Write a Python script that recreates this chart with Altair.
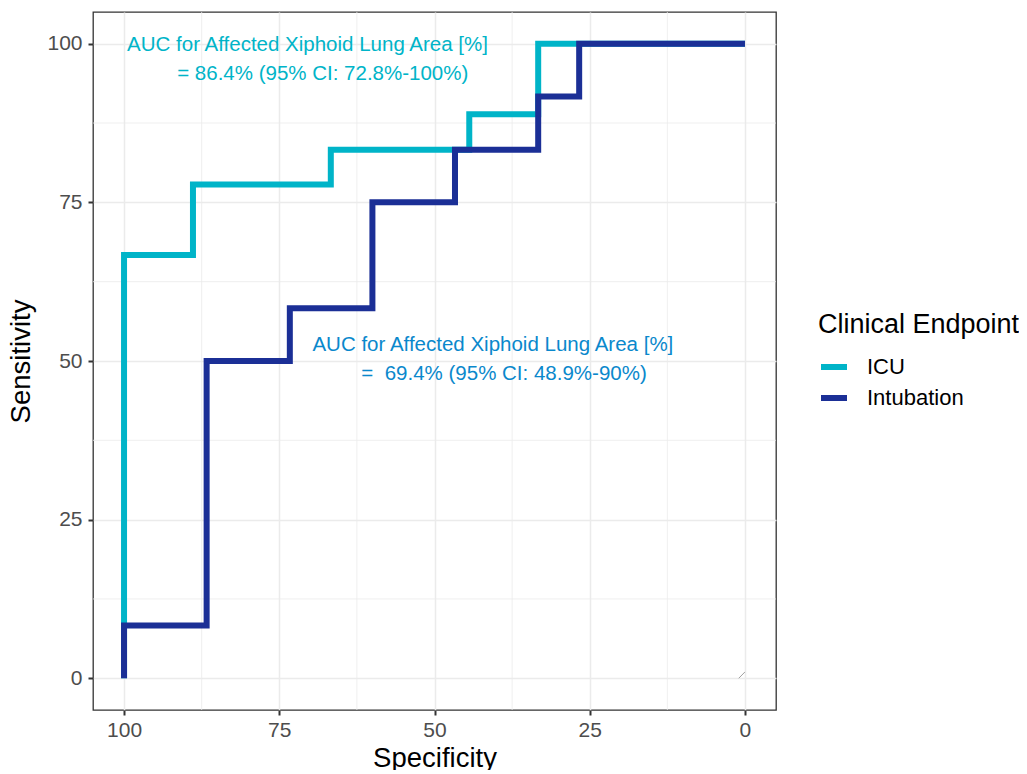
import altair as alt
import pandas as pd

# ---- data ----
icu_spec = [100, 100, 88.9, 88.9, 66.7, 66.7, 44.4, 44.4, 33.3, 33.3, 0]
icu_sens = [0, 66.7, 66.7, 77.8, 77.8, 83.3, 83.3, 88.9, 88.9, 100, 100]
int_spec = [100, 100, 86.7, 86.7, 73.3, 73.3, 60, 60, 46.7, 46.7, 33.3, 33.3, 26.7, 26.7, 0]
int_sens = [0, 8.3, 8.3, 50, 50, 58.3, 58.3, 75, 75, 83.3, 83.3, 91.7, 91.7, 100, 100]
endpoints = ["ICU", "Intubation"]
colors = ["#00B4C8", "#1B2F96"]

ref_spec = [1, 0]
ref_sens = [0, 1]

major_ticks = [0, 25, 50, 75, 100]
minor_ticks = [12.5, 37.5, 62.5, 87.5]

ann_text = [
    "AUC for Affected Xiphoid Lung Area [%]",
    "= 86.4% (95% CI: 72.8%-100%)",
    "AUC for Affected Xiphoid Lung Area [%]",
    "=\u00a0 69.4% (95% CI: 48.9%-90%)",
]
ann_spec = [70.45, 68.0, 40.6, 38.8]
ann_sens = [98.9, 94.3, 51.5, 47.0]
ann_color = ["#00B4C8", "#00B4C8", "#0A88CC", "#0A88CC"]

FONT = "Liberation Sans"

rows = []
for i, (s, v) in enumerate(zip(icu_spec, icu_sens)):
    rows.append({"spec": s, "sens": v, "endpoint": "ICU", "ord": i})
for i, (s, v) in enumerate(zip(int_spec, int_sens)):
    rows.append({"spec": s, "sens": v, "endpoint": "Intubation", "ord": i})
curves = pd.DataFrame(rows)

xscale = alt.Scale(domain=[-5, 105], reverse=True, nice=False, zero=False)
yscale = alt.Scale(domain=[-5, 105], nice=False, zero=False)

minor_x = alt.Chart(pd.DataFrame({"v": minor_ticks})).mark_rule(
    color="#EBEBEB", strokeWidth=0.8
).encode(x=alt.X("v:Q", scale=xscale))
minor_y = alt.Chart(pd.DataFrame({"v": minor_ticks})).mark_rule(
    color="#EBEBEB", strokeWidth=0.8
).encode(y=alt.Y("v:Q", scale=yscale))

ref = alt.Chart(pd.DataFrame({"spec": ref_spec, "sens": ref_sens})).mark_line(
    color="#A0A0A0", strokeWidth=1
).encode(x=alt.X("spec:Q", scale=xscale), y=alt.Y("sens:Q", scale=yscale))

lines = alt.Chart(curves).mark_line(strokeWidth=6, strokeJoin="miter", strokeCap="butt").encode(
    x=alt.X(
        "spec:Q",
        scale=xscale,
        title="Specificity",
        axis=alt.Axis(values=major_ticks, format="d"),
    ),
    y=alt.Y(
        "sens:Q",
        scale=yscale,
        title="Sensitivity",
        axis=alt.Axis(values=major_ticks, format="d"),
    ),
    color=alt.Color(
        "endpoint:N",
        scale=alt.Scale(domain=endpoints, range=colors),
        legend=alt.Legend(
            title="Clinical Endpoint",
            orient="none",
            legendX=725,
            legendY=300,
            symbolType="stroke",
            symbolSize=676,
            symbolStrokeWidth=6,
            rowPadding=3,
            labelOffset=17,
            titlePadding=12,
            titleLimit=400,
            labelLimit=300,
        ),
    ),
    order="ord:Q",
)

ann = alt.Chart(
    pd.DataFrame({"t": ann_text, "spec": ann_spec, "sens": ann_sens, "c": ann_color})
).mark_text(font=FONT, fontSize=20.5, align="center", baseline="alphabetic").encode(
    x=alt.X("spec:Q", scale=xscale),
    y=alt.Y("sens:Q", scale=yscale),
    text="t:N",
    color=alt.Color("c:N", scale=None),
)

chart = (
    alt.layer(minor_x, minor_y, ref, lines, ann)
    .properties(
        width=683,
        height=698,
        autosize=alt.AutoSizeParams(type="none"),
        padding={"left": 85, "top": 4, "right": 243, "bottom": 60},
    )
    .configure_view(stroke="#333333", strokeWidth=1.3)
    .configure_axis(
        labelFont=FONT,
        labelFontSize=21,
        labelColor="#4D4D4D",
        titleFont=FONT,
        titleFontSize=27.5,
        titleFontWeight="normal",
        titleColor="#000000",
        tickColor="#333333",
        tickSize=5,
        tickWidth=2,
        gridColor="#EBEBEB",
        gridWidth=1.5,
        domain=False,
    )
    .configure_axisX(labelPadding=4, titlePadding=4)
    .configure_axisY(labelPadding=6, titlePadding=11)
    .configure_legend(
        titleFont=FONT,
        titleFontSize=27,
        titleFontWeight="normal",
        titleColor="#000000",
        labelFont=FONT,
        labelFontSize=22,
        labelColor="#000000",
    )
)

chart.save("out.html", embed_options={"renderer": "svg", "actions": False})
